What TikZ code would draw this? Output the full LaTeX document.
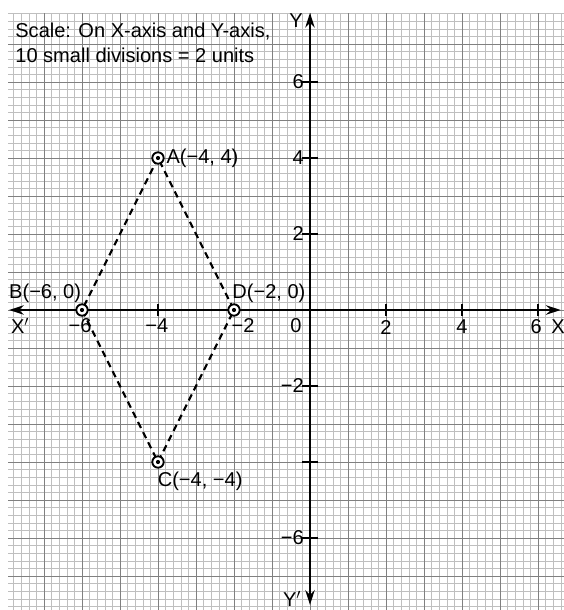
\documentclass[tikz,border=0pt]{standalone}
\usepackage{fontspec}
\setmainfont{Liberation Sans}
\usetikzlibrary{arrows.meta}
\begin{document}
\begin{tikzpicture}[
  lbl/.style={font=\fontsize{15}{17}\selectfont, inner sep=0pt},
  axisline/.style={line width=1.7pt, -{Stealth[length=11pt,width=7pt]}},
  edge/.style={line width=1.6pt, dash pattern=on 5pt off 3.5pt},
  ptmark/.style={circle, draw, line width=1.4pt, minimum size=0.3cm, inner sep=0pt, fill=white},
  tick/.style={line width=1.5pt}
]
\useasboundingbox (-8.158,-7.895) rectangle (6.684,8.158);
\fill[white] (-8.158,-7.895) rectangle (6.684,8.158);
% graph paper
\draw[black!25, line width=0.4pt, step=0.2] (-7.947,-7.895) grid (6.684,7.816);
\draw[black!50, line width=0.6pt, step=1] (-7.947,-7.895) grid (6.684,7.816);
% axes
\coordinate (xl) at (-7.92,0);
\coordinate (xr) at (6.6,0);
\coordinate (yt) at (0,7.82);
\coordinate (yb) at (0,-7.76);
\draw[axisline] (0,0) -- (xl);
\draw[axisline] (0,0) -- (xr);
\draw[axisline] (0,0) -- (yt);
\draw[axisline] (0,0) -- (yb);
% ticks
\foreach \t in {-6,-4,-2,2,4,6} {
  \draw[tick] (\t,-0.15) -- (\t,0.15);
  \draw[tick] (-0.2,\t) -- (0.2,\t);
}
% axis names
\node[lbl] (ylab) at (-0.37,7.62) {Y};
\node[lbl] (xp) at (-7.63,-0.42) {X$'$};
\node[lbl] (xn) at (6.53,-0.45) {X};
\node[lbl] (ypn) at (-0.47,-7.6) {Y$'$};
% tick labels
\node[lbl] (tx1) at (-6.05,-0.42) {−6};
\node[lbl] (tx2) at (-4.03,-0.42) {−4};
\node[lbl] (tx3) at (-1.76,-0.42) {−2};
\node[lbl] (tx4) at (-0.37,-0.42) {0};
\node[lbl] (tx5) at (2.0,-0.45) {2};
\node[lbl] (tx6) at (4.0,-0.45) {4};
\node[lbl] (tx7) at (5.95,-0.45) {6};
\node[lbl, anchor=east] (ty1) at (-0.16,6) {6};
\node[lbl, anchor=east] (ty2) at (-0.16,4) {4};
\node[lbl, anchor=east] (ty3) at (-0.16,2) {2};
\node[lbl, anchor=east] (ty4) at (-0.16,-2) {−2};
\node[lbl, anchor=east] (ty5) at (-0.16,-6) {−6};
% points
\coordinate (A) at (-4,4);
\coordinate (B) at (-6,0);
\coordinate (C) at (-4,-4);
\coordinate (D) at (-2,0);
\draw[edge] (A) -- (B) -- (C) -- (D) -- cycle;
\foreach \p in {A,B,C,D} {
  \node[ptmark] (m\p) at (\p) {};
  \fill (\p) circle (0.055);
}
\node[lbl, anchor=west] (la) at (-3.78,4) {A(−4, 4)};
\node[lbl] (lb) at (-6.97,0.45) {B(−6, 0)};
\node[lbl] (ld) at (-1.08,0.45) {D(−2, 0)};
\node[lbl] (lc) at (-2.89,-4.5) {C(−4, −4)};
% scale note
\node[lbl, anchor=west] (s1) at (-7.76,7.34) {Scale: On X-axis and Y-axis,};
\node[lbl, anchor=west] (s2) at (-7.76,6.71) {10 small divisions = 2 units};
\end{tikzpicture}
\end{document}
